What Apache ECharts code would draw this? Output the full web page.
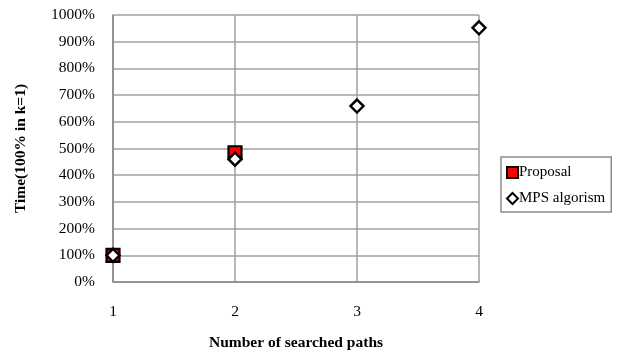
<!DOCTYPE html>
<html>
<head>
<meta charset="utf-8">
<script src="https://cdn.jsdelivr.net/npm/echarts@6/dist/echarts.min.js"></script>
<style>
  html, body { margin: 0; padding: 0; background: #fff; }
  #main { width: 621px; height: 353px; }
</style>
</head>
<body>
<div id="main"></div>
<script>
// data
var xPaths = [1, 2, 3, 4]
var proposal = [100, 484]
var mps = [100, 460, 659, 952]
var yTicks = [0, 100, 200, 300, 400, 500, 600, 700, 800, 900, 1000]

var font = 'Liberation Serif'
var myChart = echarts.init(document.getElementById('main'))

function pairs(xs, ys) {
  return ys.map(function (v, i) { return [xs[i], v] })
}

var option = {
  animation: false,
  textStyle: { fontFamily: font },
  grid: { left: 113, right: 142, top: 15, bottom: 71, outerBoundsMode: 'none', containLabel: false },
  legend: {
    orient: 'vertical',
    left: 501,
    top: 157,
    width: 114,
    padding: [8, 6, 6, 5],
    itemGap: 11,
    itemWidth: 11,
    itemHeight: 11,
    borderColor: '#8c8c8c',
    borderWidth: 1.5,
    textStyle: { fontFamily: font, fontSize: 15, color: '#000', padding: [0, 0, 0, -4] },
    data: ['Proposal', 'MPS algorism']
  },
  xAxis: {
    type: 'value',
    min: 1,
    max: 4,
    interval: 1,
    name: 'Number of searched paths',
    nameLocation: 'middle',
    nameGap: 53,
    nameTextStyle: { fontFamily: font, fontSize: 15.5, fontWeight: 'bold', color: '#000' },
    axisLine: { show: true, lineStyle: { color: '#888', width: 1.5 } },
    axisTick: { show: false },
    axisLabel: { fontFamily: font, fontSize: 15.5, color: '#000', margin: 22 },
    splitLine: { show: true, lineStyle: { color: '#a0a0a0', width: 1.5 } }
  },
  yAxis: {
    type: 'value',
    min: yTicks[0],
    max: yTicks[yTicks.length - 1],
    interval: 100,
    name: 'Time(100% in k=1)',
    nameLocation: 'middle',
    nameGap: 84,
    nameRotate: 90,
    nameTextStyle: { fontFamily: font, fontSize: 15.5, fontWeight: 'bold', color: '#000' },
    axisLine: { show: true, lineStyle: { color: '#888', width: 1.5 } },
    axisTick: { show: false },
    axisLabel: {
      fontFamily: font, fontSize: 15.5, color: '#000', margin: 18,
      formatter: function (v) { return v + '%' }
    },
    splitLine: { show: true, lineStyle: { color: '#a0a0a0', width: 1.5 } }
  },
  series: [
    {
      name: 'Proposal',
      type: 'scatter',
      symbol: 'rect',
      symbolSize: 13,
      itemStyle: { color: '#ff0000', borderColor: '#000', borderWidth: 2.2, opacity: 1 },
      data: pairs(xPaths, proposal)
    },
    {
      name: 'MPS algorism',
      type: 'scatter',
      symbol: 'diamond',
      symbolSize: 13,
      itemStyle: { color: '#fff', borderColor: '#000', borderWidth: 2.4, opacity: 1 },
      data: pairs(xPaths, mps)
    }
  ]
}
myChart.setOption(option)
</script>
</body>
</html>
